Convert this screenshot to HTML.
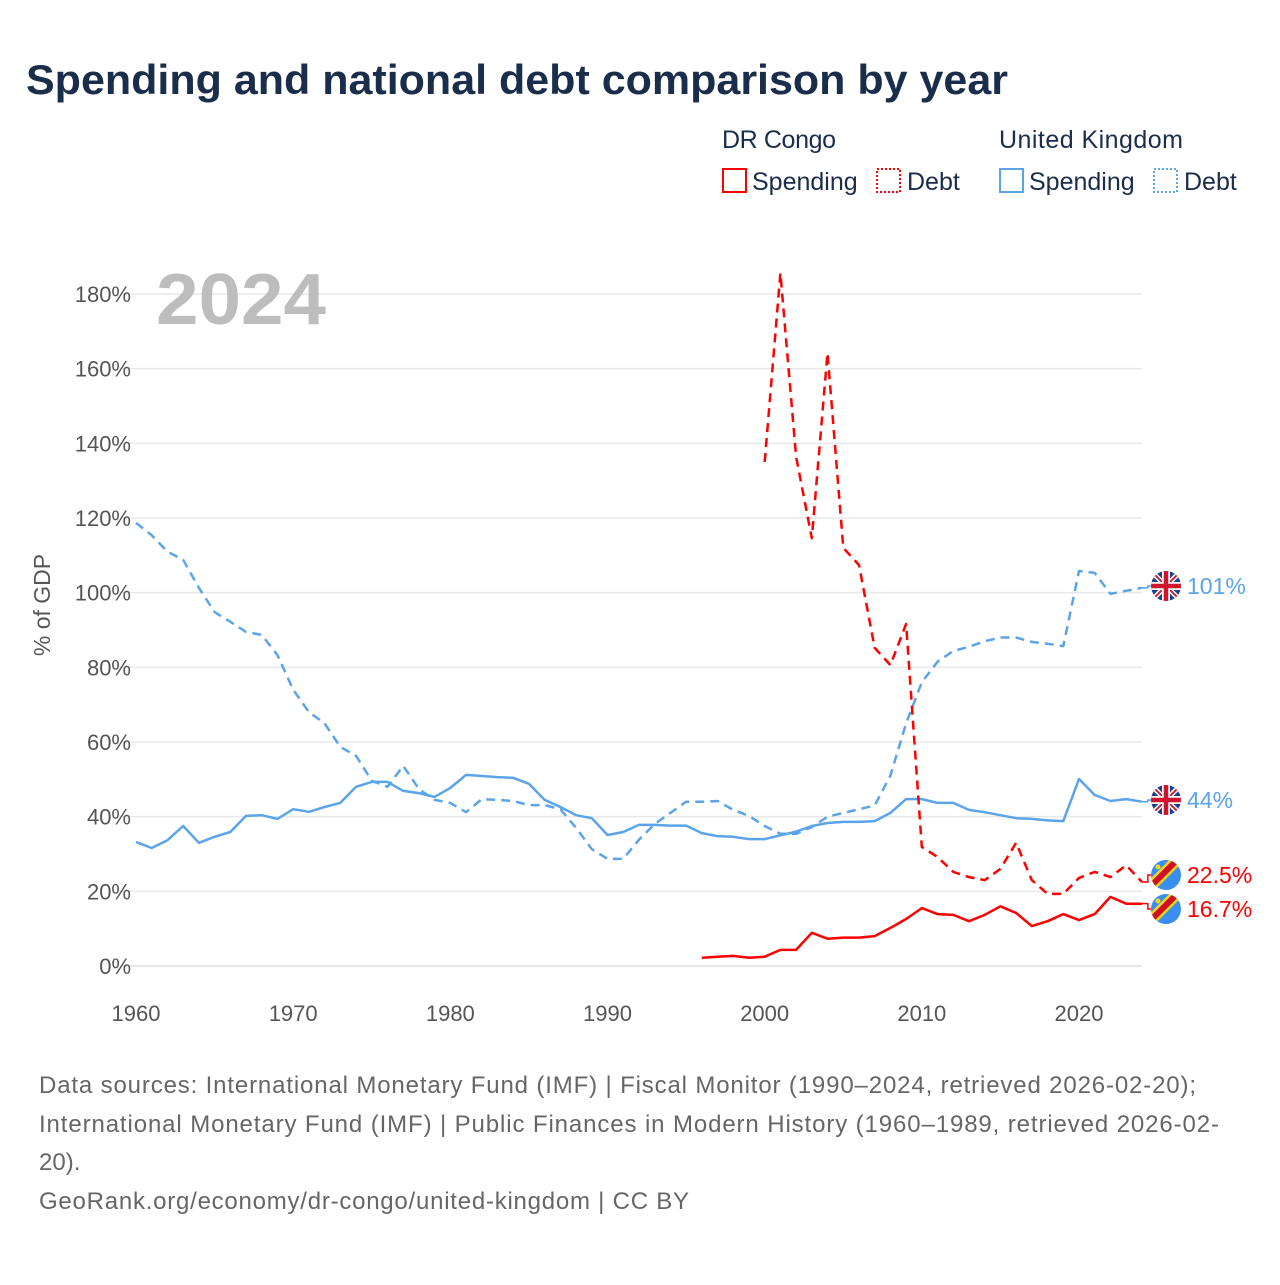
<!DOCTYPE html>
<html><head><meta charset="utf-8">
<style>
body{margin:0;background:#fff;width:1280px;height:1280px;overflow:hidden;font-family:"Liberation Sans",sans-serif}
</style></head>
<body>
<svg id="chart" width="1280" height="1280" xmlns="http://www.w3.org/2000/svg" font-family="Liberation Sans, sans-serif">
<text x="26" y="94" font-size="42" font-weight="bold" fill="#1a2e4c" textLength="982" lengthAdjust="spacingAndGlyphs">Spending and national debt comparison by year</text>
<g font-size="25" fill="#1a2e4c">
<text x="722" y="148" textLength="114">DR Congo</text>
<text x="999" y="148" textLength="184">United Kingdom</text>
<g><rect x="723" y="169" width="23" height="23" fill="none" stroke="#f00" stroke-width="2"/><text x="752" y="190">Spending</text></g>
<g><rect x="877" y="169" width="23" height="23" fill="none" stroke="#f00" stroke-width="2" stroke-dasharray="2,2"/><text x="907" y="190">Debt</text></g>
<g><rect x="1000" y="169" width="23" height="23" fill="none" stroke="#5ba4ea" stroke-width="2"/><text x="1029" y="190">Spending</text></g>
<g><rect x="1154" y="169" width="23" height="23" fill="none" stroke="#5ba4ea" stroke-width="2" stroke-dasharray="2,2"/><text x="1184" y="190">Debt</text></g>
</g>
<g id="grid"></g>
<g id="yticks"></g>
<g id="xticks"></g>
<text x="156" y="324" font-size="72" font-weight="bold" fill="#bdbdbd" textLength="170" lengthAdjust="spacingAndGlyphs">2024</text>
<text transform="translate(50,605) rotate(-90)" text-anchor="middle" font-size="23" fill="#555">% of GDP</text>
<g id="series"></g>
<g id="ends"></g>
<g font-size="24" fill="#666">
<text x="39" y="1093" textLength="1157">Data sources: International Monetary Fund (IMF) | Fiscal Monitor (1990–2024, retrieved 2026-02-20);</text>
<text x="39" y="1132" textLength="1180">International Monetary Fund (IMF) | Public Finances in Modern History (1960–1989, retrieved 2026-02-</text>
<text x="39" y="1170">20).</text>
<text x="39" y="1209" textLength="650">GeoRank.org/economy/dr-congo/united-kingdom | CC BY</text>
</g>
</svg>
<script>
const yTicks=[0,20,40,60,80,100,120,140,160,180];
const xTicks=[1960,1970,1980,1990,2000,2010,2020];
const ukYears0=1960;
const ukSpending=[33.2,31.6,33.7,37.5,33,34.6,35.9,40.2,40.4,39.4,42,41.3,42.6,43.7,48,49.3,49.3,46.9,46.3,45.3,47.7,51.2,50.9,50.6,50.4,48.8,44.5,42.6,40.4,39.6,35.1,35.9,37.8,37.8,37.6,37.6,35.6,34.8,34.6,34,34,35,36,37.5,38.3,38.6,38.6,38.8,41,44.7,44.7,43.7,43.7,41.8,41.2,40.4,39.6,39.4,39,38.8,50.1,45.8,44.2,44.7,44];
const ukDebt=[118.7,115.4,111,108.8,101.3,94.8,92.2,89.5,88.7,83.3,74,68,65,58.7,56.3,49.6,48,53.6,47.4,44.5,43.7,41.2,44.7,44.5,44.2,43.1,43.1,42,37,31.3,28.7,28.7,33.8,38,41,44,44,44.2,41.8,40.2,37.5,35.4,35.4,37.2,40,41,42,43,51,65,76,81.5,84.4,85.5,87,88,88,86.8,86.3,85.7,105.8,105.3,99.7,100.5,101.3];
const drcSpendStart=1996;
const drcSpending=[2.2,2.5,2.7,2.2,2.5,4.3,4.3,8.9,7.3,7.6,7.6,8,10.2,12.6,15.5,13.9,13.7,12,13.7,16,14.2,10.7,12,13.9,12.3,13.9,18.5,16.7,16.7];
const drcDebtStart=2000;
const drcDebt=[135,185.6,136.4,114.6,164.2,112,107.4,85.2,80.6,91.6,31.9,29.2,25.2,23.8,23,26,33,23,19.3,19.3,23.6,25.2,23.8,27,22.5];
const endLabels=["101%","44%","22.5%","16.7%"];

const NS="http://www.w3.org/2000/svg";
const X=y=>136+(y-1960)*(1079-136)/60;
const Y=v=>966-v*(966-294)/180;
function mk(tag,attrs,parent){const e=document.createElementNS(NS,tag);for(const k in attrs)e.setAttribute(k,attrs[k]);parent.appendChild(e);return e;}
const grid=document.getElementById('grid'),yt=document.getElementById('yticks'),xt=document.getElementById('xticks'),ser=document.getElementById('series'),ends=document.getElementById('ends');
yTicks.forEach(v=>{
 const l=mk('line',{x1:122,x2:1142,y1:Y(v),y2:Y(v),stroke:v===0?'#ddd':'#e8e8e8','stroke-width':1.5},grid);
 
 
 const t=mk('text',{x:131,y:Y(v)+8,'text-anchor':'end','font-size':22,fill:'#555'},yt);
 t.textContent=v+'%';
 
 
});
xTicks.forEach(y=>{
 const t=mk('text',{x:X(y),y:1021,'text-anchor':'middle','font-size':22,fill:'#555'},xt);
 t.textContent=y;
 
 
});
function line(start,vals,color,dash,name){
 const d=vals.map((v,i)=>(i?'L':'M')+X(start+i).toFixed(1)+','+Y(v).toFixed(1)).join('');
 const p=mk('path',{d:d,fill:'none',stroke:color,'stroke-width':2.5,'stroke-linejoin':'round'},ser);
 if(dash)p.setAttribute('stroke-dasharray','9,6');
 
 
}
line(ukYears0,ukDebt,'#5ba4ea',true,'uk-debt-line');
line(ukYears0,ukSpending,'#5ba4ea',false,'uk-spending-line');
line(drcDebtStart,drcDebt,'#f00',true,'drc-debt-line');
line(drcSpendStart,drcSpending,'#f00',false,'drc-spending-line');

function endLabel(lastV,labelY,color,label,uk,name){
 const lx=X(2024),fy=labelY;
 mk('path',{d:`M${lx},${Y(lastV)}L${lx+6},${Y(lastV)}L${lx+6},${fy}L${lx+10},${fy}`,fill:'none',stroke:color,'stroke-width':1.5},ends);
 const g=mk('g',{},ends);
 
 
 const cx=1166;
 const cid='c'+Math.round(fy);
 const cp=mk('clipPath',{id:cid},g);mk('circle',{cx:cx,cy:fy,r:15},cp);
 const f=mk('g',{'clip-path':`url(#${cid})`},g);
 if(uk){
  mk('rect',{x:cx-15,y:fy-15,width:30,height:30,fill:'#1f3f8f'},f);
  mk('path',{d:`M${cx-15},${fy-15}L${cx+15},${fy+15}M${cx+15},${fy-15}L${cx-15},${fy+15}`,stroke:'#fff','stroke-width':5},f);
  mk('path',{d:`M${cx-15},${fy-15}L${cx+15},${fy+15}M${cx+15},${fy-15}L${cx-15},${fy+15}`,stroke:'#d0142c','stroke-width':1.8},f);
  mk('path',{d:`M${cx},${fy-15}V${fy+15}M${cx-15},${fy}H${cx+15}`,stroke:'#fff','stroke-width':8},f);
  mk('path',{d:`M${cx},${fy-15}V${fy+15}M${cx-15},${fy}H${cx+15}`,stroke:'#d0142c','stroke-width':4.5},f);
 }else{
  mk('rect',{x:cx-15,y:fy-15,width:30,height:30,fill:'#3a8ef0'},f);
  mk('path',{d:`M${cx-18},${fy+14}L${cx+14},${fy-18}`,stroke:'#f7d618','stroke-width':11},f);
  mk('path',{d:`M${cx-18},${fy+14}L${cx+14},${fy-18}`,stroke:'#ce1021','stroke-width':6},f);
  mk('circle',{cx:cx-8,cy:fy-8,r:2.5,fill:'#f7d618'},f);
 }
 const t=mk('text',{x:1187,y:fy+8,'font-size':23,fill:color},g);
 t.textContent=label;
}
endLabel(ukDebt[ukDebt.length-1],586,'#5ba4ea',endLabels[0],true,'end-label-uk-debt');
endLabel(ukSpending[ukSpending.length-1],800,'#5ba4ea',endLabels[1],true,'end-label-uk-spending');
endLabel(drcDebt[drcDebt.length-1],875,'#f00',endLabels[2],false,'end-label-drc-debt');
endLabel(drcSpending[drcSpending.length-1],909,'#f00',endLabels[3],false,'end-label-drc-spending');
</script>
</body></html>
